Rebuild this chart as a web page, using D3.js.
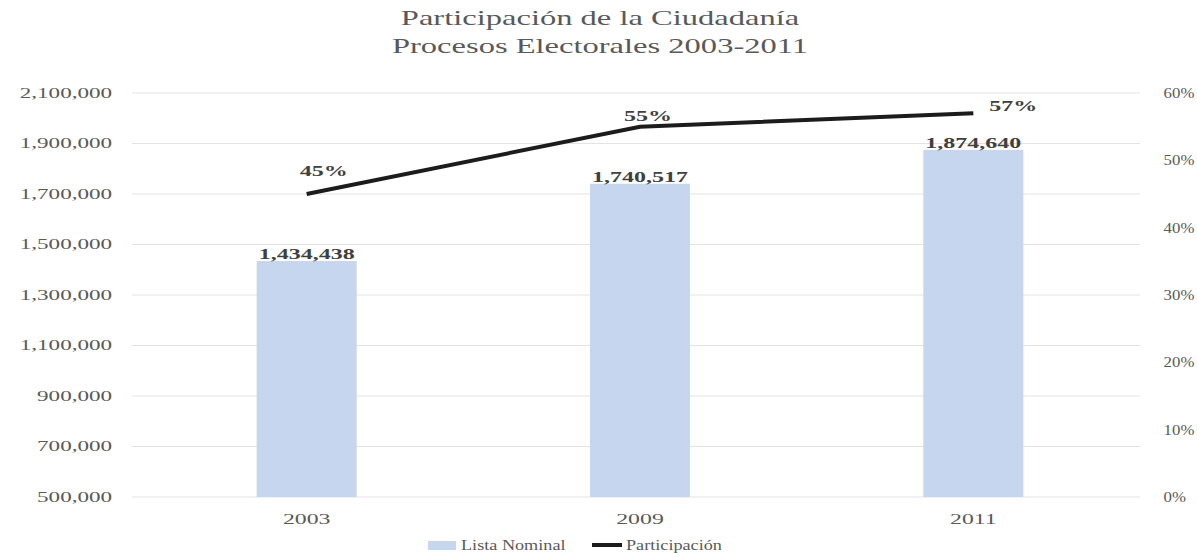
<!DOCTYPE html>
<html><head><meta charset="utf-8">
<script src="https://cdn.jsdelivr.net/npm/d3@7"></script>
<style>body{margin:0;background:#fff}svg{display:block}</style>
</head><body><svg id="c" width="1197" height="556"></svg>
<script>
const categories = ["2003", "2009", "2011"];
const listaNominal = [1434438, 1740517, 1874640];
const participacion = [0.45, 0.55, 0.57];
const leftTicks = [500000, 700000, 900000, 1100000, 1300000, 1500000, 1700000, 1900000, 2100000];
const rightTicks = [0, 0.1, 0.2, 0.3, 0.4, 0.5, 0.6];
const titleLines = ["Participación de la Ciudadanía", "Procesos Electorales 2003-2011"];
const legendLabels = ["Lista Nominal", "Participación"];

const svg = d3.select("#c");
const font = "'Liberation Serif', 'Times New Roman', serif";
const m = {l: 140, r: 1140, t: 93, b: 497};
const x = d3.scaleBand().domain(categories).range([m.l, m.r]);
const yL = d3.scaleLinear().domain([500000, 2100000]).range([m.b, m.t]);
const yR = d3.scaleLinear().domain([0, 0.6]).range([m.b, m.t]);
const fmt = d3.format(",");
const pct = d3.format(".0%");

function stretched(g, px, py, sx) {
  return g.append("text").attr("transform", `translate(${px},${py}) scale(${sx},1)`);
}

// gridlines
svg.append("g").selectAll("line").data(leftTicks).join("line")
  .attr("x1", m.l - 8).attr("x2", m.r)
  .attr("y1", d => yL(d)).attr("y2", d => yL(d))
  .attr("stroke", "#e3e3e3").attr("stroke-width", 1);

// left axis
const gl = svg.append("g").attr("transform", `translate(117,0)`)
  .call(d3.axisLeft(yL).tickValues(leftTicks).tickFormat(fmt).tickSize(0));
gl.select(".domain").remove();
gl.selectAll("text").attr("font-family", font).attr("font-size", 14).attr("fill", "#595959")
  .attr("transform", `scale(1.65,1)`);

// right axis
const gr = svg.append("g").attr("transform", `translate(1160,0)`)
  .call(d3.axisRight(yR).tickValues(rightTicks).tickFormat(pct).tickSize(0));
gr.select(".domain").remove();
gr.selectAll("text").attr("font-family", font).attr("font-size", 14).attr("fill", "#595959")
  .attr("transform", `scale(1.2,1)`);

// x axis
const gx = svg.append("g").attr("transform", `translate(0,${m.b + 14})`)
  .call(d3.axisBottom(x).tickSize(0));
gx.select(".domain").remove();
gx.selectAll("text").attr("font-family", font).attr("font-size", 14).attr("fill", "#595959")
  .attr("transform", `scale(1.7,1)`);

// bars
const bw = x.bandwidth() * 0.3;
const cx = d => x(d) + x.bandwidth() / 2;
svg.append("g").selectAll("rect").data(categories).join("rect")
  .attr("x", d => cx(d) - bw / 2)
  .attr("width", bw)
  .attr("y", (d, i) => yL(listaNominal[i]))
  .attr("height", (d, i) => m.b - yL(listaNominal[i]))
  .attr("fill", "#c6d6ee");

// bar labels
const bl = svg.append("g");
categories.forEach((c, i) => {
  stretched(bl, cx(c), yL(listaNominal[i]) - 2, 1.6)
    .attr("text-anchor", "middle")
    .attr("font-family", font).attr("font-size", 15).attr("font-weight", "bold")
    .attr("fill", "#404040")
    .text(fmt(listaNominal[i]));
});

// line
const line = d3.line().x((d, i) => cx(categories[i])).y(d => yR(d));
svg.append("path").datum(participacion).attr("d", line)
  .attr("fill", "none").attr("stroke", "#1c1c1c").attr("stroke-width", 4);

// line labels
const offs = [[17, -18], [8, -6], [40, -2]];
const ll = svg.append("g");
participacion.forEach((v, i) => {
  stretched(ll, cx(categories[i]) + offs[i][0], yR(v) + offs[i][1], 1.6)
    .attr("text-anchor", "middle")
    .attr("font-family", font).attr("font-size", 15).attr("font-weight", "bold")
    .attr("fill", "#404040")
    .text(pct(v));
});

// title
const tg = svg.append("g");
titleLines.forEach((t, i) => {
  stretched(tg, 600, 25 + i * 28, 1.55)
    .attr("text-anchor", "middle")
    .attr("font-family", font).attr("font-size", 21).attr("fill", "#595959")
    .text(t);
});

// legend
const lg = svg.append("g");
lg.append("rect").attr("x", 428).attr("y", 541).attr("width", 28).attr("height", 9).attr("fill", "#c6d6ee");
stretched(lg, 461, 550, 1.3).attr("font-family", font).attr("font-size", 14)
  .attr("fill", "#595959").text(legendLabels[0]);
lg.append("line").attr("x1", 592).attr("x2", 622).attr("y1", 545).attr("y2", 545)
  .attr("stroke", "#1c1c1c").attr("stroke-width", 4);
stretched(lg, 626, 550, 1.3).attr("font-family", font).attr("font-size", 14)
  .attr("fill", "#595959").text(legendLabels[1]);
</script></body></html>
